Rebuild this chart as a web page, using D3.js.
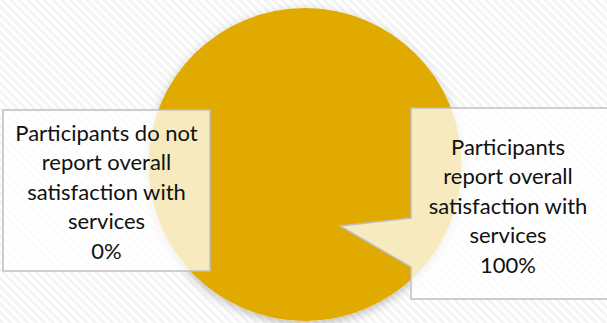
<!DOCTYPE html>
<html>
<head>
<meta charset="utf-8">
<script src="https://cdn.jsdelivr.net/npm/d3@7"></script>
<style>
  html, body { margin: 0; padding: 0; background: #fff; }
  svg { display: block; }
  text { font-family: Lato, "Open Sans", sans-serif; fill: #111; }
</style>
</head>
<body>
<div id="chart"></div>
<script>
// data
const categories = [
    'Participants do not report overall satisfaction with services',
    'Participants report overall satisfaction with services'
];
const values = [0, 100];
const percentLabels = ['0%', '100%'];
const labelLines = [
    ['Participants do not', 'report overall', 'satisfaction with', 'services'],
    ['Participants', 'report overall', 'satisfaction with', 'services']
];
const sliceColors = ['#7f7f7f', '#e0aa00'];

const width = 607;
const height = 323;
const cx = 305, cy = 164.5, radius = 156.5;

const svg = d3.select('#chart')
    .append('svg')
    .attr('width', width)
    .attr('height', height);

const defs = svg.append('defs');

// faint diagonal stripes in the background
const pattern = defs.append('pattern')
    .attr('id', 'stripes')
    .attr('patternUnits', 'userSpaceOnUse')
    .attr('width', 6)
    .attr('height', 6)
    .attr('patternTransform', 'rotate(-45)');
pattern.append('rect').attr('width', 6).attr('height', 6).attr('fill', '#ffffff');
pattern.append('rect').attr('width', 3).attr('height', 6).attr('fill', '#f4f4f4');

const shadow = defs.append('filter')
    .attr('id', 'pieShadow')
    .attr('x', '-20%').attr('y', '-20%')
    .attr('width', '140%').attr('height', '140%');
shadow.append('feDropShadow')
    .attr('dx', 0).attr('dy', 3)
    .attr('stdDeviation', 5)
    .attr('flood-color', '#000')
    .attr('flood-opacity', 0.25);

svg.append('rect')
    .attr('width', width)
    .attr('height', height)
    .attr('fill', 'url(#stripes)');

// pie
const pie = d3.pie().sort(null).value(d => d);
const arc = d3.arc().innerRadius(0).outerRadius(radius);

const pieGroup = svg.append('g')
    .attr('transform', `translate(${cx},${cy})`)
    .attr('filter', 'url(#pieShadow)');

pieGroup.selectAll('path')
    .data(pie(values).filter(d => d.value > 0))
    .enter()
    .append('path')
    .attr('d', arc)
    .attr('fill', d => sliceColors[d.index]);

// callout boxes (layout only)
const boxes = [
    { x0: 3, y0: 110, x1: 210, y1: 271, tx: 106.5, ty: 133, pointer: null },
    { x0: 411, y0: 108, x1: 608, y1: 299, tx: 508, ty: 147,
      pointer: { tip: [340, 226], a: 218, b: 267 } }
];

function boxPath(b) {
    if (!b.pointer) {
        return `M${b.x0},${b.y0}H${b.x1}V${b.y1}H${b.x0}Z`;
    }
    const p = b.pointer;
    return `M${b.x0},${b.y0}H${b.x1}V${b.y1}H${b.x0}V${p.b}L${p.tip[0]},${p.tip[1]}L${b.x0},${p.a}Z`;
}

const lineH = 29.5;

const labels = svg.append('g').selectAll('g')
    .data(categories)
    .enter()
    .append('g');

labels.append('path')
    .attr('d', (d, i) => boxPath(boxes[i]))
    .attr('fill', 'rgba(255,255,255,0.75)')
    .attr('stroke', '#bfbfbf')
    .attr('stroke-width', 1.5);

labels.append('text')
    .attr('text-anchor', 'middle')
    .attr('font-size', 22)
    .each(function (d, i) {
        const t = d3.select(this);
        const lines = labelLines[i].concat([percentLabels[i]]);
        lines.forEach((ln, j) => {
            t.append('tspan')
                .attr('x', boxes[i].tx)
                .attr('y', boxes[i].ty + j * lineH)
                .attr('dy', '0.35em')
                .text(ln);
        });
    });
</script>
</body>
</html>
